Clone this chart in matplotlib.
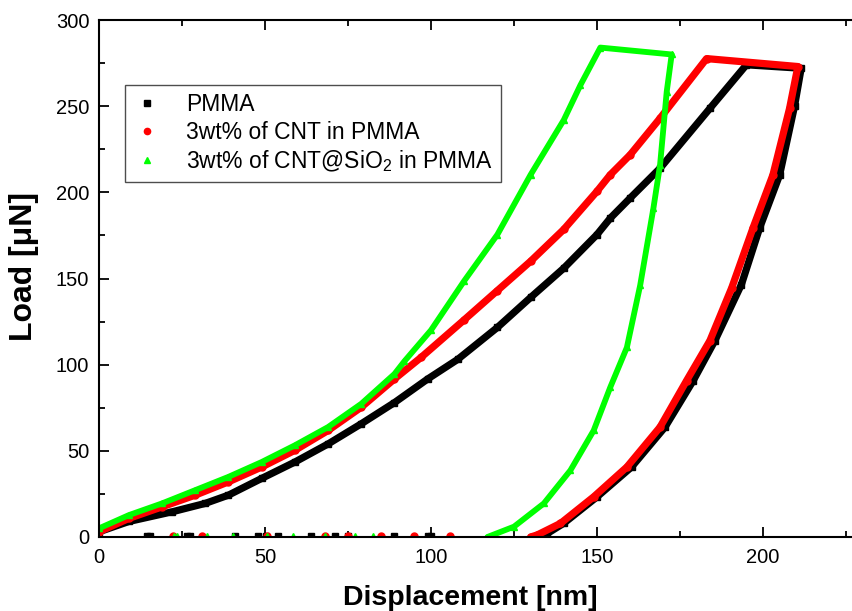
import matplotlib
matplotlib.use("Agg")
import matplotlib.pyplot as plt
from matplotlib.lines import Line2D
from matplotlib.ticker import MultipleLocator

plt.rcParams['font.family'] = ['Liberation Sans', 'DejaVu Sans']
plt.rcParams['mathtext.default'] = 'regular'

# Load–displacement curves (loading, hold, unloading), displacement in nm, load in uN
pmma_x = [0, 9, 22, 32, 39, 49, 59, 69, 79, 89, 99, 108, 120, 130, 140, 150, 154,
          160, 169, 184, 195, 211.5, 209.5, 205, 199, 193.5, 185.5, 179, 170.5,
          160.4, 150, 140, 135, 132]
pmma_y = [3, 9, 14.6, 19.5, 24.3, 34, 43.5, 54, 65.7, 78, 91.7, 103, 121.6, 139, 156,
          175.5, 185, 196.7, 214, 248.7, 274, 272, 250, 210, 179.4, 146.5, 113.9,
          90.8, 63.8, 40.6, 23.3, 8, 2, 0]

cnt_x = [0, 9, 19, 29, 39, 49, 59, 69, 79, 89, 97, 110, 120, 130, 140, 150, 154,
         160, 169, 183, 210.5, 208, 203, 197, 190.6, 184, 177, 169, 159, 149, 139,
         132, 130]
cnt_y = [3, 10.8, 17.5, 24.3, 32, 40.6, 50.3, 61.8, 75.3, 91.7, 104.2, 126, 143,
         160, 178.5, 200.6, 210.2, 221.8, 243, 277.6, 273, 248.7, 210.2, 179.4,
         144.7, 113.9, 90.8, 63.8, 40.6, 23.3, 7.9, 1.2, 0]

sio2_x = [0, 9, 19, 29, 39, 49, 59, 69, 79, 89, 92, 100, 110, 120, 130, 140, 145,
          151, 172.5, 171, 169, 167, 163, 159, 154, 149, 142, 134, 125, 117]
sio2_y = [5, 12.7, 19.5, 27.2, 34.9, 43.5, 53.2, 63.8, 77.3, 94.6, 102, 120, 148.6,
          175.5, 210.2, 242, 262.2, 284, 280, 258.4, 216, 190.9, 146, 110, 86.9,
          61.8, 38.7, 19.5, 6, 0]

# Stray zero-load readings after unloading
pmma_zero_x = [14.4, 15.4, 26.4, 27.4, 41, 48, 50.2, 54, 64, 71, 75, 89, 99, 100]
cnt_zero_x = [22.4, 31, 50.5, 68, 75, 85, 95, 105.7]
sio2_zero_x = [22.5, 23.5, 32.4, 40.5, 50.5, 58.5, 68, 77, 82.6]

labels = ['PMMA', '3wt% of CNT in PMMA', '3wt% of CNT@SiO$_2$ in PMMA']
colors = ['#000000', '#ff0000', '#00ff00']
markers = ['s', 'o', '^']

fig = plt.figure(figsize=(8.53, 6.11), dpi=100)
ax = fig.add_axes([99 / 853, 74 / 611, 763.6 / 853, 517 / 611])

series = [(pmma_x, pmma_y, pmma_zero_x), (cnt_x, cnt_y, cnt_zero_x),
          (sio2_x, sio2_y, sio2_zero_x)]
widths = [5.2, 5.2, 4.2]
for (xs, ys, zx), c, m, lw in zip(series, colors, markers, widths):
    ax.plot(xs, ys, color=c, lw=lw, solid_joinstyle='round', solid_capstyle='round',
            zorder=2)
    ax.plot(xs, ys, ls='none', marker=m, ms=5, color=c, mec=c, zorder=2)
    ax.plot(zx, [0.8] * len(zx), ls='none', marker=m, ms=5, color=c, mec=c, zorder=2)

ax.set_xlim(0, 230)
ax.set_ylim(0, 300)
ax.xaxis.set_major_locator(MultipleLocator(50))
ax.xaxis.set_minor_locator(MultipleLocator(25))
ax.yaxis.set_major_locator(MultipleLocator(50))
ax.yaxis.set_minor_locator(MultipleLocator(25))
ax.tick_params(which='both', direction='in', top=True, right=True, width=1.3,
               labelsize=14.5)
ax.tick_params(axis='x', pad=8)
ax.tick_params(axis='y', pad=7)
ax.tick_params(which='major', length=7)
ax.tick_params(which='minor', length=4.5)
for sp in ax.spines.values():
    sp.set_linewidth(1.5)

ax.set_xlabel('Displacement [nm]', fontsize=20.5, fontweight='bold')
ax.set_ylabel('Load [\u03bcN]', fontsize=23, fontweight='bold')
ax.xaxis.set_label_coords(0.486, -0.092)
ax.yaxis.set_label_coords(-0.078, 0.524)

handles = [Line2D([], [], ls='none', marker=m, ms=4.5, color=c, mec=c)
           for m, c in zip(markers, colors)]
leg = ax.legend(handles, labels, loc='upper left',
                bbox_to_anchor=(125 / 853, 1 - 85 / 611),
                bbox_transform=fig.transFigure, borderaxespad=0, fontsize=16.5,
                frameon=True, fancybox=False, edgecolor='#222222',
                handlelength=1.2, handletextpad=1.1, labelspacing=0.2,
                borderpad=0.35)
leg.get_frame().set_linewidth(1.0)

fig.savefig('out.png', dpi=100)
